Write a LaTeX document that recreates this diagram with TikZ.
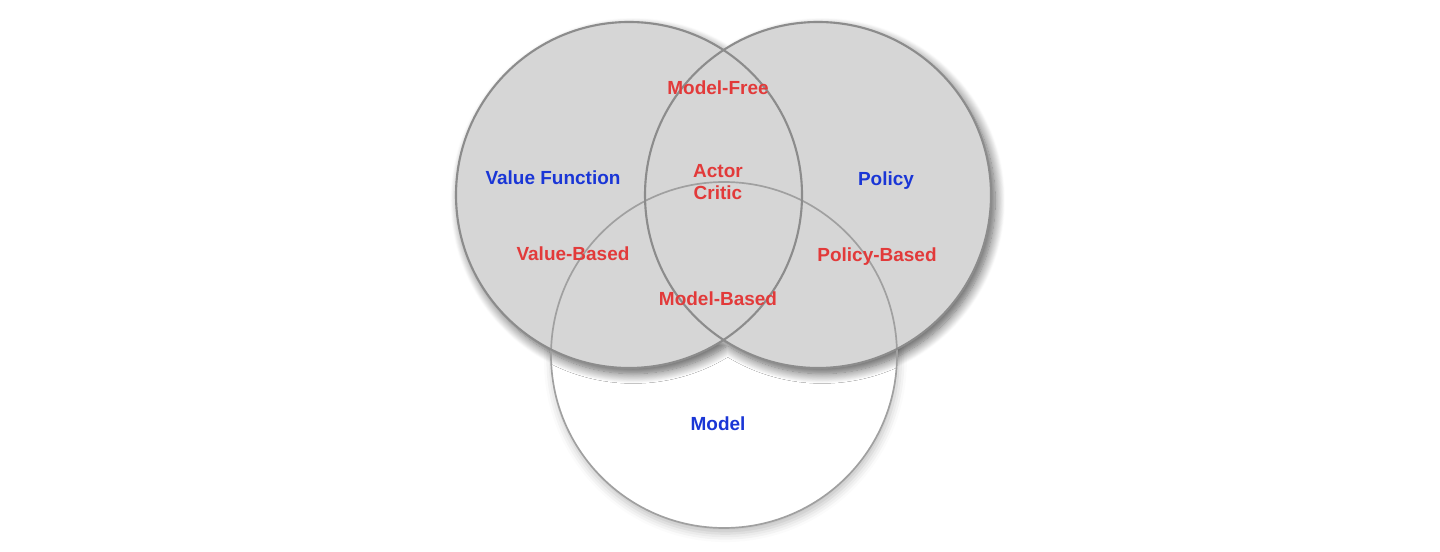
\documentclass[tikz,border=0pt]{standalone}
\usepackage{fontspec}
\setmainfont{Liberation Sans}
\usetikzlibrary{shadows.blur}
\definecolor{setfill}{RGB}{214, 214, 214}
\definecolor{setline}{RGB}{140, 140, 140}
\definecolor{modline}{RGB}{160, 160, 160}
\definecolor{approach}{RGB}{226, 58, 58}
\definecolor{component}{RGB}{26, 54, 214}

\begin{document}
\begin{tikzpicture}[x=0.025cm, y=0.025cm,
    lbl/.style={font=\fontsize{13.5}{15.6}\selectfont\bfseries, inner sep=0pt, align=center},
    comp/.style={lbl, text=component},
    appr/.style={lbl, text=approach}]
			\def\rad{173}
			\useasboundingbox (0,0) rectangle (1440,552);

			% Model set: white, drawn below the other two
			\fill[white, blur shadow={shadow xshift=1pt, shadow yshift=-4pt, shadow blur radius=6pt, shadow opacity=25}]
				(724,197) circle (\rad);

			% Value function and policy sets: grey, one path with one shadow
			\fill[setfill, blur shadow={shadow xshift=3pt, shadow yshift=-4pt, shadow blur radius=7pt, shadow blur steps=12, shadow opacity=65}]
				(629,357) circle (\rad) (818,357) circle (\rad);

			% outlines
			\draw[modline, line width=1.2pt] (724,197) circle (\rad);
			\draw[setline, line width=1.5pt] (629,357) circle (\rad);
			\draw[setline, line width=1.5pt] (818,357) circle (\rad);

			% components
			\node[comp] (valfn) at (553,374) {Value Function};
			\node[comp] (policy) at (886,371) {Policy};
			\node[comp] (model) at (718,128) {Model};

			% approaches
			\node[appr] (mfree) at (718,464) {Model-Free};
			\node[appr] (actcrit) at (718,370) {Actor\\Critic};
			\node[appr] (vbased) at (573,298) {Value-Based};
			\node[appr] (pbased) at (877,295) {Policy-Based};
			\node[appr] (mbased) at (718,253) {Model-Based};

		\end{tikzpicture}
\end{document}
